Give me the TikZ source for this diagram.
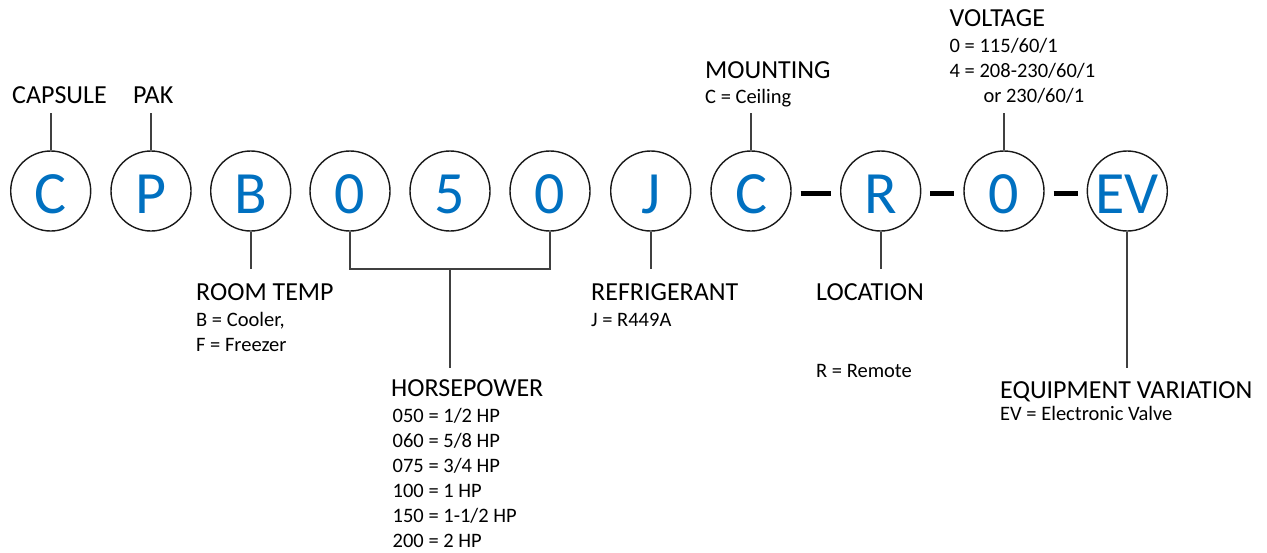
\documentclass[tikz,border=0pt]{standalone}
\usepackage{fontspec}
\setmainfont{Carlito}
\definecolor{codeblue}{HTML}{0070C0}
\definecolor{linegray}{HTML}{404040}
\begin{document}
\begin{tikzpicture}[x=1pt,y=-1pt,
  ring/.style={circle,draw=black!90,line width=1.4pt,minimum size=80pt,inner sep=0pt},
  letter/.style={anchor=base,inner sep=0pt,text=codeblue,font=\fontsize{60}{60}\selectfont},
  title/.style={anchor=base west,inner sep=0pt,font=\fontsize{26}{30}\selectfont},
  detail/.style={anchor=base west,inner sep=0pt,font=\fontsize{20.5}{24}\selectfont},
  lead/.style={draw=linegray,line width=1.7pt},
  dashline/.style={draw=black,line width=5pt}]
\useasboundingbox (0,0) rectangle (1267,552);
% circles
\foreach \n/\x/\t in {1/50.7/C,2/151/P,3/250.7/B,4/350/0,5/450/5,6/550/0,7/650.7/J,8/751/C,9/880.7/R,10/1004/0,11/1127.3/EV}{
  \node[ring] (c\n) at (\x,191) {};
  \node[letter] (t\n) at (\x,213) {\t};
}
% dashes
\draw[dashline] ([xshift=9pt,yshift=-2pt]c8.east) -- ([xshift=-9pt,yshift=-2pt]c9.west);
\draw[dashline] ([xshift=9pt,yshift=-2pt]c9.east) -- ([xshift=-9pt,yshift=-2pt]c10.west);
\draw[dashline] ([xshift=9pt,yshift=-2pt]c10.east) -- ([xshift=-9pt,yshift=-2pt]c11.west);
% coordinates for lead ends
\coordinate (k1) at (50.7,113);
\coordinate (k2) at (151,113);
\coordinate (k8) at (751,113);
\coordinate (k10) at (1004,113);
\coordinate (k3) at (250.7,269);
\coordinate (k7) at (650.7,269);
\coordinate (k9) at (880.7,269);
\coordinate (k11) at (1127.3,368);
\coordinate (hpmid) at (450,269);
\coordinate (hpend) at (450,368);
% leads
\draw[lead] (c1.north) -- (k1);
\draw[lead] (c2.north) -- (k2);
\draw[lead] (c8.north) -- (k8);
\draw[lead] (c10.north) -- (k10);
\draw[lead] (c3.south) -- (k3);
\draw[lead] (c7.south) -- (k7);
\draw[lead] (c9.south) -- (k9);
\draw[lead] (c11.south) -- (k11);
\draw[lead] (c4.south) |- (hpmid) -| (c6.south);
\draw[lead] (hpmid) -- (hpend);
% labels
\node[title] (capsule) at (12,103) {CAPSULE};
\node[title] (pak) at (133,103) {PAK};
\node[title] (mount) at (705,78) {MOUNTING};
\node[detail] (mount1) at (705,103) {C = Ceiling};
\node[title] (volt) at (949.5,26.7) {VOLTAGE};
\node[detail] (volt1) at (949.5,52.3) {0 = 115/60/1};
\node[detail] (volt2) at (949.5,77.7) {4 = 208-230/60/1};
\node[detail] (volt3) at (983.3,102) {or 230/60/1};
\node[title] (room) at (196,300.5) {ROOM TEMP};
\node[detail] (room1) at (196,326) {B = Cooler,};
\node[detail] (room2) at (196,351.5) {F = Freezer};
\node[title] (hp) at (391,396) {HORSEPOWER};
\node[detail] (hp1) at (392.5,422) {050 = 1/2 HP};
\node[detail] (hp2) at (392.5,447) {060 = 5/8 HP};
\node[detail] (hp3) at (392.5,472.5) {075 = 3/4 HP};
\node[detail] (hp4) at (392.5,497.5) {100 = 1 HP};
\node[detail] (hp5) at (392.5,522.5) {150 = 1-1/2 HP};
\node[detail] (hp6) at (392.5,547.5) {200 = 2 HP};
\node[title] (refr) at (591,300.5) {REFRIGERANT};
\node[detail] (refr1) at (591,326) {J = R449A};
\node[title] (loc) at (816,300.5) {LOCATION};
\node[detail] (loc1) at (816,377) {R = Remote};
\node[title] (equip) at (1000,398) {EQUIPMENT VARIATION};
\node[detail] (equip1) at (1000,420) {EV = Electronic Valve};
\end{tikzpicture}
\end{document}
